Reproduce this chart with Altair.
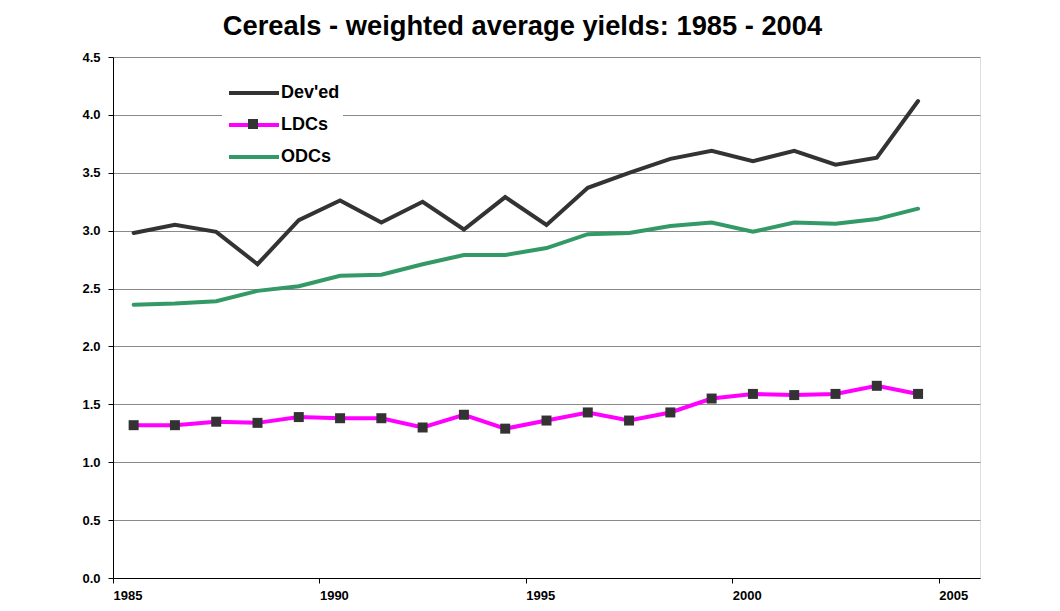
import altair as alt
import pandas as pd

# ---- data ----
years = list(range(1985, 2005))
deved = [2.98, 3.05, 2.99, 2.71, 3.09, 3.26, 3.07, 3.25, 3.01, 3.29,
         3.05, 3.37, 3.50, 3.62, 3.69, 3.60, 3.69, 3.57, 3.63, 4.12]
ldcs = [1.32, 1.32, 1.35, 1.34, 1.39, 1.38, 1.38, 1.30, 1.41, 1.29,
        1.36, 1.43, 1.36, 1.43, 1.55, 1.59, 1.58, 1.59, 1.66, 1.59]
odcs = [2.36, 2.37, 2.39, 2.48, 2.52, 2.61, 2.62, 2.71, 2.79, 2.79,
        2.85, 2.97, 2.98, 3.04, 3.07, 2.99, 3.07, 3.06, 3.10, 3.19]
series_names = ["Dev'ed", "LDCs", "ODCs"]
series_colors = ["#333333", "#FF00FF", "#339966"]
x_tick_values = [1985, 1990, 1995, 2000, 2005]
y_tick_values = [0.0, 0.5, 1.0, 1.5, 2.0, 2.5, 3.0, 3.5, 4.0, 4.5]
chart_title = "Cereals - weighted average yields: 1985 - 2004"

rows = []
for name, vals in zip(series_names, [deved, ldcs, odcs]):
    for yr, v in zip(years, vals):
        rows.append({"year": yr, "series": name, "value": v})
df = pd.DataFrame(rows)

FONT = "Liberation Sans"

base = alt.Chart(df).transform_calculate(xpos="datum.year + 0.5")

x_enc = alt.X(
    "xpos:Q",
    scale=alt.Scale(domain=[1985, 2006], nice=False, zero=False),
    axis=alt.Axis(
        values=x_tick_values, format="d", title=None, grid=False,
        labelAlign="left", labelBaseline="top", labelPadding=6,
        labelFont=FONT, labelFontWeight="bold", labelFontSize=13, labelColor="#000000",
        domainColor="#000000", domainWidth=1, tickColor="#000000", tickSize=5,
        labelFlush=False, labelOverlap=False,
    ),
)
y_enc = alt.Y(
    "value:Q",
    scale=alt.Scale(domain=[0, 4.5], nice=False, zero=True),
    axis=alt.Axis(
        values=y_tick_values, format=".1f", title=None, grid=True,
        gridColor="#8a8a8a", gridWidth=1,
        labelPadding=8, labelFont=FONT, labelFontWeight="bold", labelFontSize=13,
        labelColor="#000000", domainColor="#000000", domainWidth=1,
        tickColor="#000000", tickSize=5, labelFlush=False, labelOverlap=False,
    ),
)

lines = base.mark_line(strokeWidth=4, strokeCap="round", strokeJoin="miter").encode(
    x=x_enc,
    y=y_enc,
    color=alt.Color(
        "series:N",
        scale=alt.Scale(domain=series_names, range=series_colors),
        legend=alt.Legend(
            orient="none", legendX=109, legendY=24, title=None,
            fillColor="#ffffff", padding=3, symbolType="M-1,0H9",
            symbolSize=100, symbolStrokeWidth=4, labelFont=FONT,
            labelFontWeight="bold", labelFontSize=18, labelColor="#000000",
            labelOffset=38, rowPadding=14, labelLimit=300,
        ),
    ),
)

points = base.transform_filter("datum.series == 'LDCs'").transform_calculate(
    mk="'LDCs'"
).mark_point(filled=True, size=100, color="#333333", opacity=1).encode(
    x=x_enc,
    y=y_enc,
    shape=alt.Shape(
        "mk:N",
        scale=alt.Scale(domain=["LDCs"], range=["square"]),
        legend=alt.Legend(
            orient="none", legendX=135, legendY=62, title=None, padding=0,
            symbolType="square", symbolSize=100, symbolFillColor="#333333",
            symbolStrokeColor="#333333", symbolStrokeWidth=0,
            labelExpr="''", labelFontSize=1, labelOffset=0,
        ),
    ),
)

chart = alt.layer(lines, points).properties(
    width=867,
    height=521,
    title=alt.TitleParams(
        chart_title, font=FONT, fontSize=27.3, fontWeight="bold", color="#000000",
        anchor="middle", frame="group", dx=-24, dy=29, offset=18, baseline="alphabetic",
    ),
    autosize=alt.AutoSizeParams(type="none"),
    padding={"left": 105, "top": 49, "right": 72, "bottom": 25},
).configure_view(
    stroke="#8a8a8a", strokeWidth=1
).configure(background="#ffffff")

chart.save("out.html", embed_options={"renderer": "svg", "actions": False})
